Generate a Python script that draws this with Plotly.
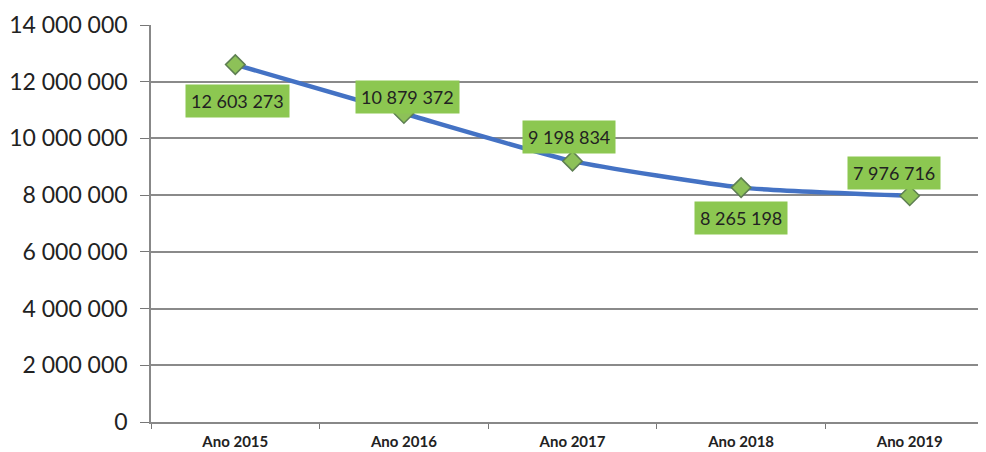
import plotly.graph_objects as go

categories = ["Ano 2015", "Ano 2016", "Ano 2017", "Ano 2018", "Ano 2019"]
values = [12603273, 10879372, 9198834, 8265198, 7976716]
y_ticks = [0, 2000000, 4000000, 6000000, 8000000, 10000000, 12000000, 14000000]

# label placement offsets (px) relative to each point
label_dx = [2, 4, -4, 0, -16]
label_dy = [-36, 16, 24, -30, 23]

fig = go.Figure()
fig.add_trace(go.Scatter(
    x=categories, y=values, mode="lines+markers",
    line=dict(color="#4472C4", width=4.5, shape="spline", smoothing=0.5),
    marker=dict(symbol="diamond", size=15, color="#8DC158",
                line=dict(color="#5E7F52", width=1.5)),
    showlegend=False, hoverinfo="skip",
))

for c, v, dx, dy in zip(categories, values, label_dx, label_dy):
    fig.add_annotation(
        x=c, y=v, text=f"{v:,}".replace(",", " "), showarrow=False,
        xshift=dx, yshift=dy, bgcolor="#8CC751", borderpad=5,
        font=dict(family="Lato, Open Sans, sans-serif", size=18, color="#222222"),
    )

fig.update_layout(
    width=986, height=452,
    margin=dict(l=143, r=0, t=17, b=38),
    paper_bgcolor="white", plot_bgcolor="white",
    separators=", ",
    xaxis=dict(
        type="category", range=[-0.5, 4.5], tickson="boundaries",
        ticks="outside", ticklen=5, tickcolor="#777777",
        ticklabelstandoff=5,
        showgrid=False, showline=True, linecolor="#888888", linewidth=1.5,
        tickfont=dict(family="Lato, Open Sans, sans-serif", size=15, color="#222222", weight="bold"),
    ),
    yaxis=dict(
        range=[0, 14000000], tickvals=y_ticks, tickformat=",d",
        ticks="outside", ticklen=9, tickcolor="#777777",
        ticklabelstandoff=8,
        showgrid=True, gridcolor="#8A8A8A", gridwidth=1.5,
        showline=True, linecolor="#888888", linewidth=1.5,
        zeroline=False,
        tickfont=dict(family="Lato, Open Sans, sans-serif", size=23, color="#222222"),
    ),
)

fig.write_html("out.html")
